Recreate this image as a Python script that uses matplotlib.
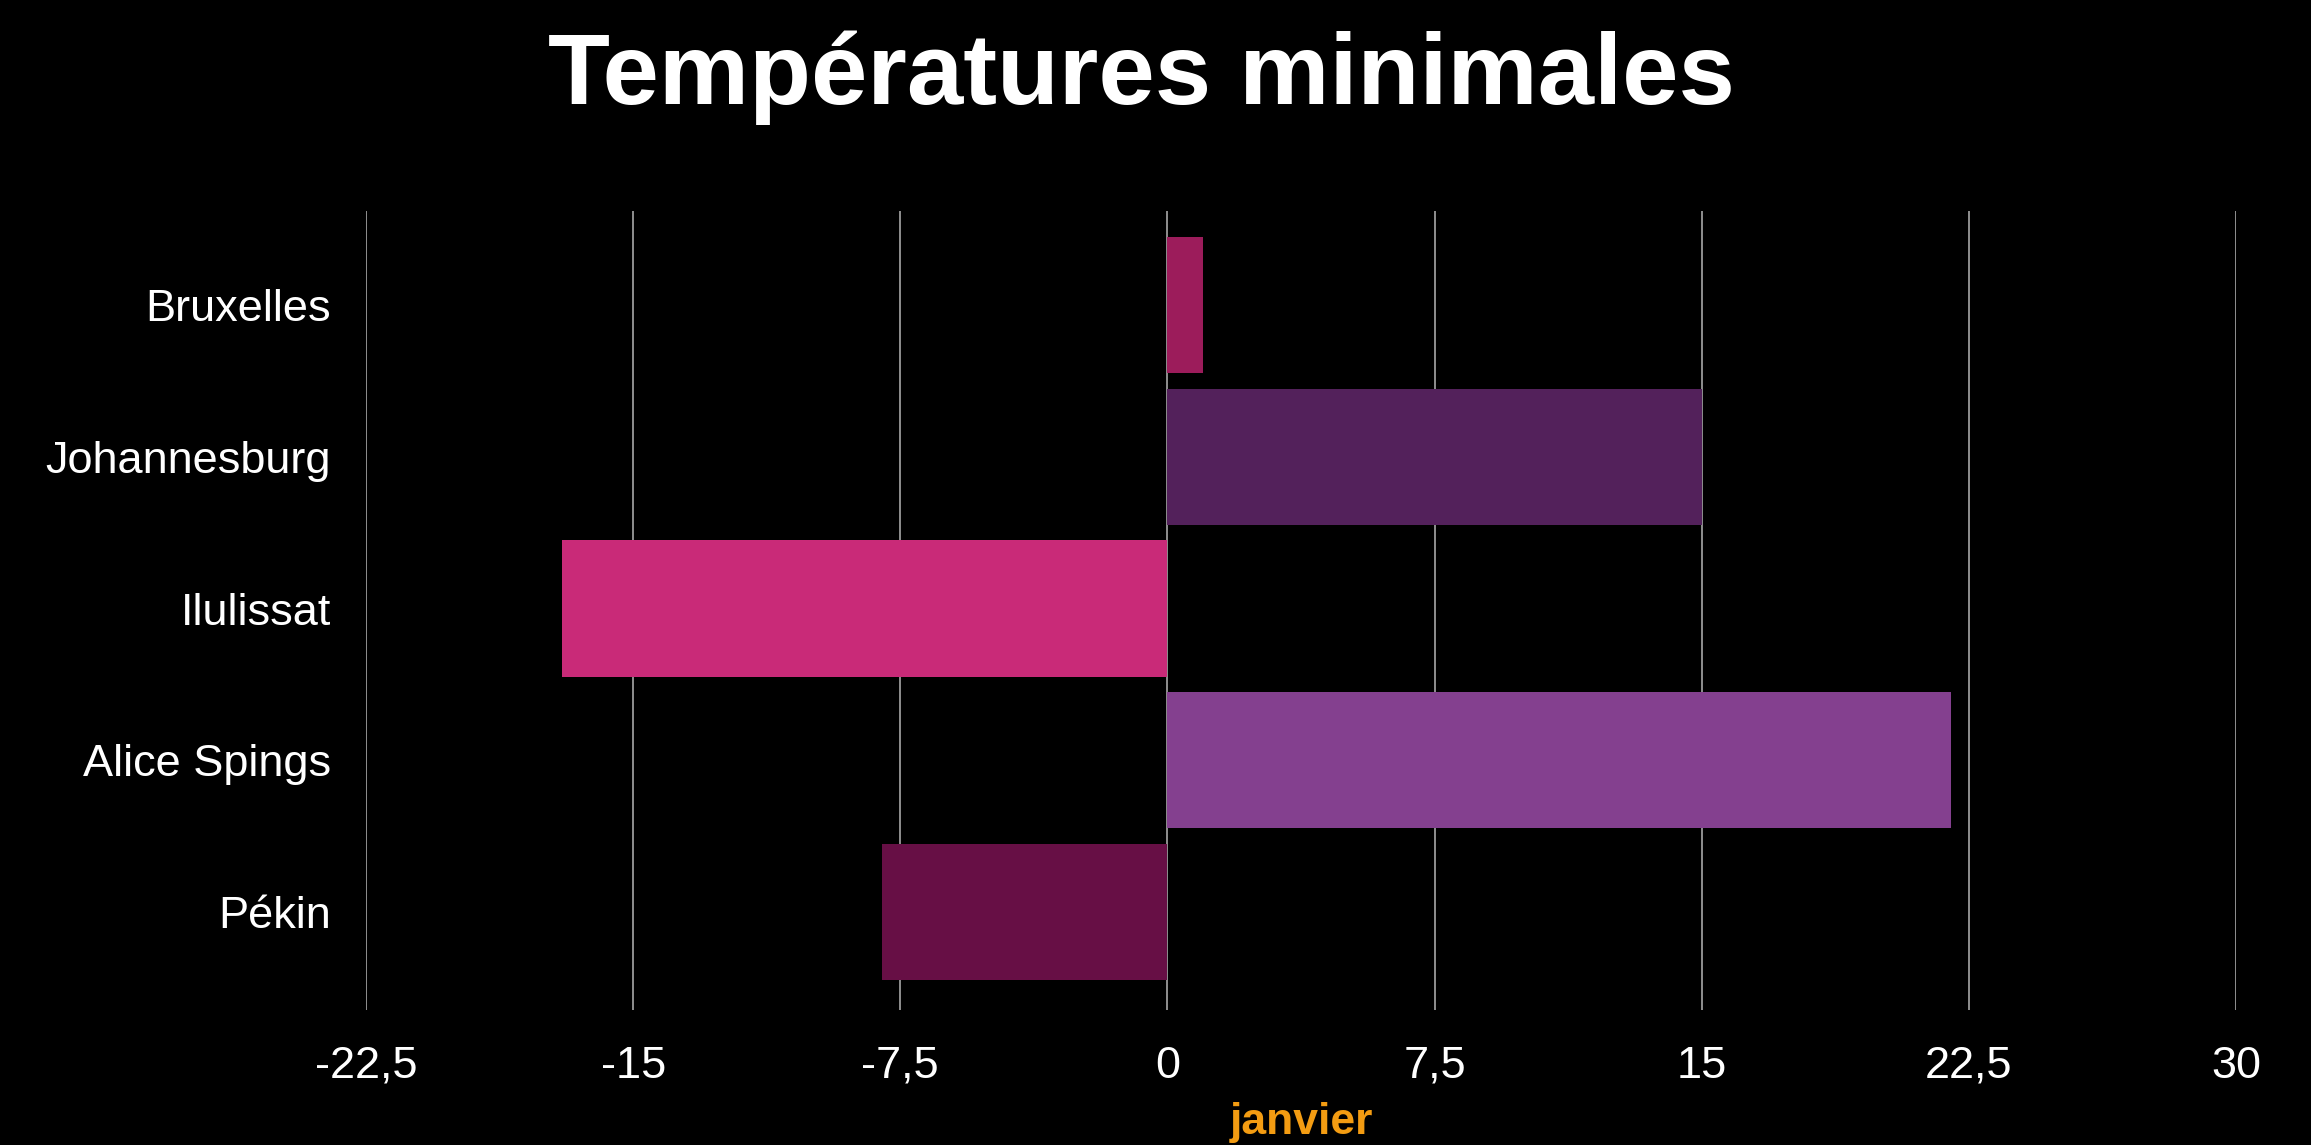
import matplotlib
matplotlib.use('Agg')
import matplotlib.pyplot as plt
from matplotlib.ticker import FuncFormatter

villes = ['Bruxelles', 'Johannesburg', 'Ilulissat', 'Alice Spings', 'Pékin']
temp_min = [1, 15, -17, 22, -8]
couleurs = ['#9C1C5B', '#53215B', '#C92A78', '#84408F', '#670F45']
x_ticks = [-22.5, -15, -7.5, 0, 7.5, 15, 22.5, 30]

plt.rcParams['font.family'] = ['Liberation Sans', 'DejaVu Sans']

fig = plt.figure(figsize=(23.11, 11.45), dpi=100, facecolor='black')
ax = fig.add_axes([0.1584, 0.1181, 0.8091, 0.6976], facecolor='black')

ax.barh(range(len(villes)), temp_min, height=0.9, color=couleurs, zorder=2)

ax.set_xlim(-22.5, 30)
ax.set_ylim(4.645, -0.62)
ax.set_xticks(x_ticks)
ax.xaxis.set_major_formatter(FuncFormatter(lambda v, p: ('%g' % v).replace('.', ',')))
ax.set_yticks(range(len(villes)))
ax.set_yticklabels(villes)
ax.grid(True, axis='x', color='#A8A8A8', linewidth=1.2, zorder=1)
for s in ax.spines.values():
    s.set_visible(False)
ax.tick_params(axis='both', length=0, colors='white', labelsize=32.5)
ax.tick_params(axis='x', pad=26)
ax.tick_params(axis='y', pad=25)

ax.set_xlabel('janvier', color='#F39C12', fontsize=32, fontweight='bold', labelpad=11)
fig.suptitle('Températures minimales', color='white', fontsize=73, fontweight='bold',
             x=0.494, y=0.973, va='top')

plt.savefig('out.png', dpi=100, facecolor='black')
